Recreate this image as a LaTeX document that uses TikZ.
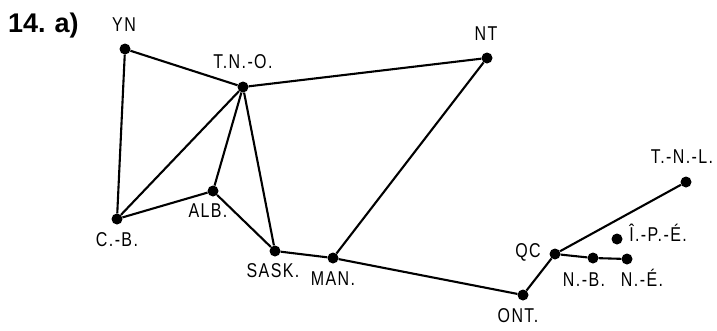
\documentclass[tikz,border=0pt]{standalone}
\usepackage{fontspec}
\setmainfont{Liberation Sans}
\newfontfamily\labelfont{Liberation Sans}[FakeStretch=0.8, LetterSpace=7]
\begin{document}
\begin{tikzpicture}[x=1pt, y=-1pt,
  vertex/.style={circle, fill=black, inner sep=0pt, minimum size=11pt},
  name label/.style={inner sep=0pt, text height=0.716em, text depth=0pt,
    font=\labelfont\fontsize{20}{21}\selectfont},
  link/.style={line width=2.1pt, black}]
\useasboundingbox (0,0) rectangle (717,330);

% exercise heading
\node[anchor=base west, inner sep=0pt, font=\bfseries\fontsize{27}{28}\selectfont] (title) at (8,32) {14.\,\,a)};

% provinces and territories
\node[vertex] (yn)   at (125,49)  {};
\node[vertex] (tno)  at (243,87)  {};
\node[vertex] (nt)   at (487,58)  {};
\node[vertex] (cb)   at (117,219) {};
\node[vertex] (alb)  at (213,191) {};
\node[vertex] (sask) at (275,251) {};
\node[vertex] (man)  at (333,258) {};
\node[vertex] (ont)  at (523,295) {};
\node[vertex] (qc)   at (555,254) {};
\node[vertex] (nb)   at (593,258) {};
\node[vertex] (ne)   at (627,259) {};
\node[vertex] (ipe)  at (617,239) {};
\node[vertex] (tnl)  at (686,182) {};

% names
\node[name label] (yn-l)   at (124,28)  {YN};
\node[name label] (tno-l)  at (243,65)  {T.N.-O.};
\node[name label] (nt-l)   at (486,37)  {NT};
\node[name label] (cb-l)   at (117,243) {C.-B.};
\node[name label] (alb-l)  at (208,214) {ALB.};
\node[name label] (sask-l) at (273,274) {SASK.};
\node[name label] (man-l)  at (333,282) {MAN.};
\node[name label] (ont-l)  at (518,319) {ONT.};
\node[name label] (qc-l)   at (528,254) {QC};
\node[name label] (nb-l)   at (584,283) {N.-B.};
\node[name label] (ne-l)   at (642,283) {N.-É.};
\node[name label] (ipe-l)  at (658,238) {Î.-P.-É.};
\node[name label] (tnl-l)  at (682,160) {T.-N.-L.};

% shared borders
\draw[link] (yn) -- (tno);
\draw[link] (yn) -- (cb);
\draw[link] (cb) -- (tno);
\draw[link] (cb) -- (alb);
\draw[link] (alb) -- (tno);
\draw[link] (alb) -- (sask);
\draw[link] (tno) -- (sask);
\draw[link] (tno) -- (nt);
\draw[link] (nt) -- (man);
\draw[link] (sask) -- (man);
\draw[link] (man) -- (ont);
\draw[link] (ont) -- (qc);
\draw[link] (qc) -- (tnl);
\draw[link] (qc) -- (nb);
\draw[link] (nb) -- (ne);
\end{tikzpicture}
\end{document}
